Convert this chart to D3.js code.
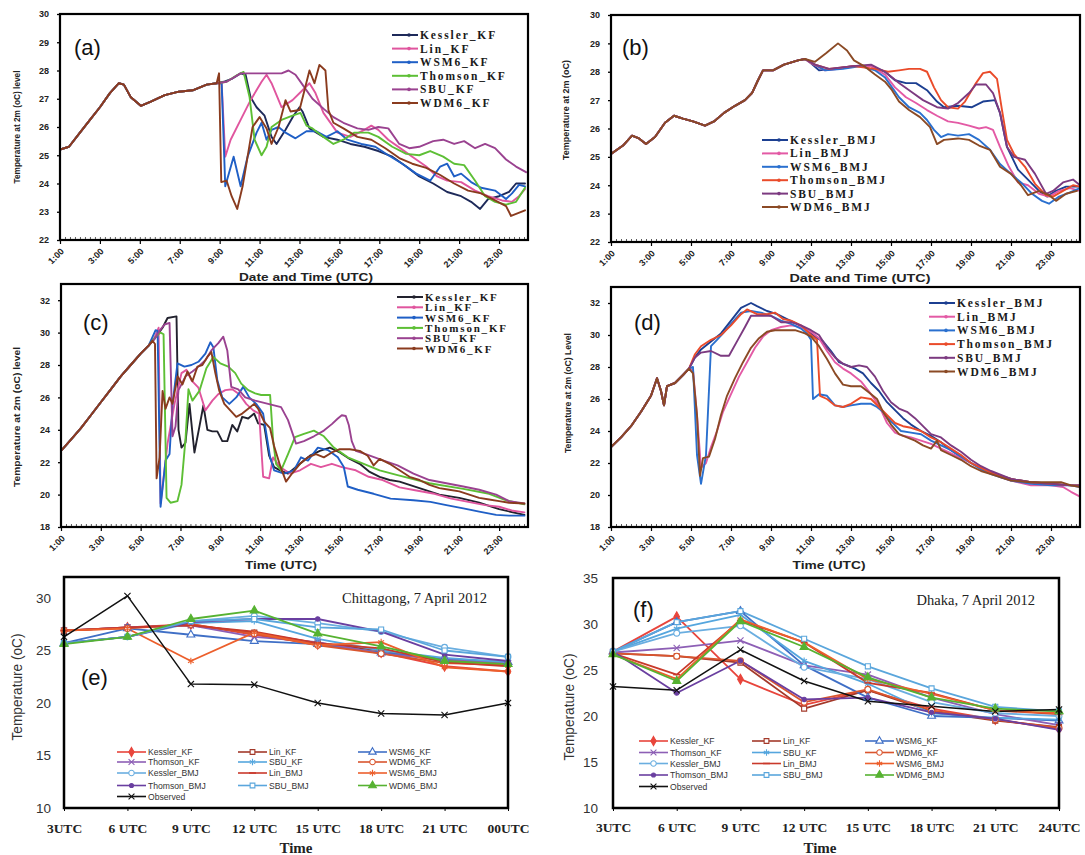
<!DOCTYPE html>
<html>
<head>
<meta charset="utf-8">
<script src="https://cdn.jsdelivr.net/npm/d3@7"></script>
<style>
  body { margin: 0; background: #fff; }
  svg { display: block; }
</style>
</head>
<body>
<svg id="fig" width="1085" height="855"></svg>
<script>
// ---------------- shared axis data ----------------
const hourTicks = [1, 3, 5, 7, 9, 11, 13, 15, 17, 19, 21, 23];
const hourTickLabels = ["1:00", "3:00", "5:00", "7:00", "9:00", "11:00", "13:00", "15:00", "17:00", "19:00", "21:00", "23:00"];
const hourDomain = [1, 24.45];

const namesKF = ["Kessler_KF", "Lin_KF", "WSM6_KF", "Thomson_KF", "SBU_KF", "WDM6_KF"];
const namesBMJ = ["Kessler_BMJ", "Lin_BMJ", "WSM6_BMJ", "Thomson_BMJ", "SBU_BMJ", "WDM6_BMJ"];
const colorsKF = ["#1e2a5a", "#e0559e", "#1f5fc6", "#5dbf35", "#9a4290", "#8a3b1e"];
const colorsKFc = ["#22222e", "#e0559e", "#1f5fc6", "#5dbf35", "#9a4290", "#8a3b1e"];
const colorsBMJ = ["#1c3f91", "#e35aa5", "#2a70cf", "#ea4b2a", "#7c3a80", "#8b4a25"];

// ---------------- panel (a): KF runs, [hour, °C] ----------------
const aLeadIn = [[1,25.2],[1.45,25.3],[2,25.8],[2.5,26.25],[3,26.7],[3.5,27.2],[3.95,27.55],[4.2,27.5],[4.55,27.05],[5.05,26.75],[5.55,26.9],[6.25,27.13],[6.95,27.25],[7.65,27.3],[8.35,27.5],[8.85,27.55]];
const aKessler = [[9.2,27.6],[9.6,27.7],[10.05,27.9],[10.3,27.85],[10.55,27.05],[10.85,26.7],[11.25,26.4],[11.6,25.65],[11.85,25.4],[12.3,25.9],[12.7,26.4],[13.0,26.7],[13.15,26.55],[13.5,25.95],[14.2,25.65],[14.9,25.55],[15.55,25.4],[16.25,25.3],[16.95,25.15],[17.65,24.95],[18.35,24.6],[19.0,24.25],[19.7,24.0],[20.4,23.7],[21.1,23.55],[21.6,23.35],[22.05,23.1],[22.45,23.45],[23.0,23.55],[23.5,23.7],[23.85,24.0],[24.3,24.0]];
const aLin = [[9.1,27.55],[9.28,24.95],[9.55,25.55],[10.05,26.25],[10.55,26.95],[11.1,27.6],[11.35,27.85],[11.6,27.55],[12.1,26.7],[12.65,26.95],[13.15,27.3],[13.5,27.55],[13.8,27.2],[14.2,26.5],[14.9,25.8],[15.55,25.65],[16.25,25.9],[16.6,26.05],[16.95,25.9],[17.45,25.55],[18.15,25.2],[18.65,24.95],[19.35,24.6],[19.9,24.25],[20.4,24.1],[21.1,24.05],[21.8,23.75],[22.45,23.55],[23.15,23.4],[23.65,23.35],[24.0,23.55],[24.3,23.8]];
const aWSM6 = [[9.1,27.55],[9.28,23.9],[9.7,24.95],[10.05,23.9],[10.4,24.95],[10.85,25.8],[11.1,26.15],[11.35,25.55],[11.6,25.9],[11.95,26.0],[12.3,25.8],[12.8,25.6],[13.35,25.85],[13.85,25.85],[14.35,25.65],[14.9,25.85],[15.4,25.55],[16.1,25.4],[16.8,25.3],[17.45,25.0],[18.15,24.7],[18.85,24.35],[19.55,24.1],[20.05,24.6],[20.4,24.7],[20.75,24.25],[21.1,24.35],[21.6,24.05],[22.1,23.85],[22.8,23.75],[23.35,23.45],[23.65,23.65],[24.0,23.95],[24.3,23.9]];
const aThomson = [[9.35,27.6],[9.9,27.85],[10.2,27.95],[10.5,27.05],[10.75,25.55],[11.1,25.0],[11.35,25.3],[11.6,26.0],[12.1,26.25],[12.65,26.4],[13.05,26.5],[13.35,26.05],[13.65,25.95],[14.2,25.65],[14.7,25.4],[15.2,25.55],[15.75,25.8],[16.45,25.8],[16.95,25.65],[17.65,25.3],[18.35,25.05],[19.0,25.0],[19.55,25.15],[20.2,24.95],[20.75,24.7],[21.25,24.65],[21.8,24.1],[22.3,23.55],[22.8,23.35],[23.35,23.25],[23.85,23.35],[24.3,23.85]];
const aSBU = [[9.35,27.6],[10.05,27.9],[11.1,27.9],[12.1,27.9],[12.45,28.0],[12.8,27.85],[13.15,27.5],[13.65,27.0],[14.2,26.65],[14.7,26.35],[15.2,26.15],[15.9,25.95],[16.45,25.9],[16.95,26.0],[17.45,25.95],[18.0,25.4],[18.5,25.25],[19.0,25.3],[19.7,25.5],[20.2,25.55],[20.75,25.4],[21.25,25.5],[21.8,25.25],[22.3,25.4],[22.8,25.25],[23.35,24.85],[23.85,24.6],[24.35,24.4]];
const aWDM6 = [[8.97,27.9],[9.08,24.05],[9.35,24.1],[9.6,23.55],[9.88,23.1],[10.15,23.9],[10.4,24.95],[10.65,26.0],[11.0,26.35],[11.35,25.95],[11.6,25.4],[11.95,26.0],[12.3,26.95],[12.55,26.55],[13.0,26.6],[13.25,27.3],[13.5,28.0],[13.75,27.55],[14.0,28.2],[14.3,28.0],[14.45,26.6],[14.7,26.15],[15.2,25.95],[15.9,25.65],[16.6,25.55],[17.3,25.25],[18.0,24.9],[18.65,24.7],[19.35,24.55],[20.05,24.3],[20.75,24.0],[21.45,23.75],[22.1,23.65],[22.8,23.4],[23.35,23.2],[23.6,22.85],[23.95,22.95],[24.3,23.05]];

// ---------------- panel (b): BMJ runs ----------------
const bLeadIn = [[1,25.1],[1.6,25.4],[2.05,25.75],[2.4,25.65],[2.75,25.45],[3.2,25.7],[3.7,26.2],[4.15,26.45],[4.6,26.35],[5.1,26.25],[5.7,26.1],[6.15,26.25],[6.65,26.55],[7.2,26.8],[7.7,27.0],[8.05,27.25],[8.35,27.7],[8.6,28.05],[9.1,28.05],[9.65,28.25],[10.35,28.4],[10.7,28.45]];
const bKessler = [[11.0,28.3],[11.4,28.05],[12.1,28.1],[13.1,28.2],[14.0,28.2],[14.7,28.0],[15.2,27.7],[15.75,27.6],[16.25,27.6],[16.8,27.35],[17.3,26.95],[17.65,26.75],[18.35,26.8],[19.05,26.75],[19.6,26.95],[20.2,27.0],[20.45,26.55],[20.8,25.35],[21.35,24.55],[21.85,24.2],[22.4,23.8],[22.8,23.6],[23.25,23.8],[23.75,23.95],[24.45,23.95]];
const bLin = [[11.0,28.3],[11.7,28.05],[12.4,28.1],[13.1,28.2],[14.0,28.2],[14.7,27.9],[15.2,27.45],[15.75,27.1],[16.25,26.9],[16.8,26.65],[17.3,26.45],[17.85,26.25],[18.35,26.2],[18.9,26.1],[19.4,26.0],[19.75,26.05],[20.1,25.95],[20.45,25.35],[20.9,24.65],[21.35,24.1],[21.85,24.0],[22.4,23.7],[22.9,23.6],[23.4,23.8],[23.95,23.9],[24.45,23.8]];
const bWSM6 = [[11.2,28.25],[11.7,28.05],[12.6,28.1],[13.5,28.2],[14.2,28.05],[14.7,27.8],[15.05,27.45],[15.4,27.1],[15.9,26.75],[16.45,26.55],[16.8,26.3],[17.15,25.95],[17.5,25.7],[17.85,25.8],[18.35,25.75],[18.9,25.8],[19.4,25.6],[19.95,25.25],[20.45,24.75],[21.0,24.4],[21.5,24.1],[22.05,23.7],[22.55,23.45],[22.9,23.35],[23.4,23.6],[23.95,23.75],[24.45,23.9]];
const bThomson = [[11.2,28.25],[11.9,28.1],[13.1,28.2],[14.2,28.1],[14.85,28.0],[15.4,28.05],[15.9,28.1],[16.45,28.1],[16.8,28.0],[17.15,27.45],[17.5,27.0],[17.85,26.75],[18.35,26.7],[18.7,26.95],[19.25,27.6],[19.6,27.95],[19.95,28.0],[20.3,27.75],[20.55,26.65],[20.8,25.6],[21.15,25.1],[21.7,24.65],[22.2,24.05],[22.75,23.65],[23.1,23.6],[23.6,23.8],[24.1,24.0],[24.45,23.95]];
const bSBU = [[11.2,28.25],[11.9,28.1],[13.1,28.2],[14.0,28.25],[14.7,28.0],[15.4,27.6],[16.1,27.25],[16.6,27.0],[17.3,26.75],[17.85,26.7],[18.35,26.9],[18.9,27.25],[19.25,27.55],[19.75,27.55],[20.1,27.25],[20.45,26.55],[20.8,25.35],[21.15,25.0],[21.7,24.9],[22.2,24.4],[22.75,23.7],[23.1,23.8],[23.6,24.1],[24.1,24.2],[24.45,24.0]];
const bWDM6 = [[11.2,28.35],[11.75,28.65],[12.35,29.0],[12.8,28.75],[13.15,28.4],[13.65,28.2],[14.2,27.9],[14.7,27.65],[15.05,27.35],[15.4,26.95],[15.9,26.65],[16.45,26.4],[16.95,26.05],[17.3,25.45],[17.65,25.6],[18.35,25.65],[18.9,25.6],[19.4,25.4],[19.95,25.25],[20.45,24.65],[21.0,24.4],[21.5,24.0],[21.85,23.65],[22.4,23.8],[22.9,23.65],[23.25,23.45],[23.75,23.7],[24.3,23.8]];

// ---------------- panel (c): KF runs ----------------
const cLeadIn = [[1,22.7],[1.5,23.4],[2,24.1],[2.5,24.9],[3,25.7],[3.5,26.5],[4,27.3],[4.5,28.0],[5,28.7],[5.4,29.2]];
const cKessler = [[5.8,29.8],[6.1,30.3],[6.35,30.9],[6.8,31.0],[6.9,24.0],[7.05,22.9],[7.25,23.2],[7.45,25.6],[7.7,22.6],[7.95,24.2],[8.15,25.5],[8.35,24.0],[8.6,23.9],[8.85,23.9],[9.1,23.3],[9.35,23.3],[9.6,24.3],[9.85,23.9],[10.1,24.8],[10.4,24.7],[10.7,25.0],[10.9,24.4],[11.2,24.3],[11.45,22.4],[11.7,21.7],[12.0,21.5],[12.4,21.3],[13.0,21.9],[13.5,22.4],[14.0,22.7],[14.5,22.9],[15.0,22.6],[15.5,22.2],[16.0,21.9],[16.5,21.4],[17.0,21.1],[17.5,20.9],[18.0,20.8],[19.0,20.4],[20.0,20.0],[21.0,19.8],[22.0,19.5],[23.0,19.1],[24.27,18.75]];
const cLin = [[5.7,29.7],[5.9,30.3],[6.0,19.45],[6.35,23.15],[6.7,25.6],[7.05,27.5],[7.3,27.7],[7.55,27.05],[7.9,26.6],[8.25,25.2],[8.6,25.8],[8.9,26.2],[9.25,26.45],[9.6,26.5],[9.95,26.2],[10.3,25.6],[10.65,25.2],[10.95,25.0],[11.15,21.1],[11.45,21.0],[11.65,22.3],[12.0,21.7],[12.5,21.3],[13.0,21.5],[13.55,21.9],[14.05,21.7],[14.6,21.9],[15.1,21.7],[15.8,21.5],[16.45,21.1],[17.15,20.9],[18.0,20.45],[18.85,20.25],[19.75,20.05],[20.6,19.75],[21.45,19.55],[22.3,19.35],[23.0,19.25],[23.7,19.0],[24.27,18.9]];
const cWSM6 = [[5.75,30.15],[5.85,30.1],[6.0,19.25],[6.25,22.1],[6.45,22.5],[6.6,25.6],[6.85,28.1],[7.2,27.9],[7.55,28.0],[7.9,28.2],[8.25,28.7],[8.5,29.4],[8.65,29.1],[8.85,27.05],[9.1,26.0],[9.45,25.6],[9.8,26.0],[10.15,26.65],[10.45,26.0],[10.8,25.6],[11.15,25.0],[11.5,22.3],[11.7,21.5],[12.2,21.3],[12.7,21.5],[13.05,22.3],[13.4,22.1],[13.9,22.9],[14.4,22.75],[14.9,22.3],[15.2,21.7],[15.4,20.5],[15.9,20.3],[16.7,20.05],[17.55,19.75],[18.7,19.65],[19.55,19.55],[20.35,19.35],[21.2,19.15],[22.0,18.95],[22.85,18.75],[23.5,18.7],[24.27,18.7]];
const cThomson = [[5.8,29.8],[6.0,30.0],[6.15,29.9],[6.3,19.8],[6.5,19.5],[6.85,19.6],[7.05,20.6],[7.25,23.4],[7.4,26.5],[7.6,25.8],[7.95,26.4],[8.3,27.8],[8.65,28.5],[9.0,28.1],[9.4,27.9],[9.75,27.5],[10.05,26.85],[10.4,26.45],[10.75,26.25],[11.05,26.15],[11.5,26.15],[11.65,23.35],[11.8,21.9],[12.05,21.5],[12.4,22.5],[12.75,23.55],[13.2,23.75],[13.7,23.95],[14.2,23.6],[14.7,22.9],[15.4,22.3],[16.2,21.9],[17.0,21.5],[17.9,21.2],[19.5,20.7],[21.2,20.35],[22.5,20.05],[23.35,19.65],[24.27,19.4]];
const cSBU = [[5.7,29.6],[6.0,30.2],[6.2,30.5],[6.45,30.6],[6.6,23.6],[6.75,24.2],[6.9,26.45],[7.25,27.3],[7.6,27.6],[7.9,27.9],[8.25,28.3],[8.55,28.9],[8.9,29.35],[9.15,29.75],[9.35,28.9],[9.55,26.65],[9.9,26.5],[10.25,26.0],[10.75,25.8],[11.4,25.6],[12.05,25.4],[12.4,24.6],[12.8,23.15],[13.2,23.3],[13.7,23.6],[14.2,23.95],[14.6,24.35],[14.9,24.7],[15.1,24.9],[15.3,24.85],[15.45,24.3],[15.6,23.3],[15.8,22.7],[16.3,22.5],[17.2,22.1],[17.9,21.8],[18.7,21.3],[19.5,20.9],[20.35,20.7],[21.2,20.5],[22.0,20.3],[22.85,20.0],[23.5,19.6],[24.27,19.45]];
const cWDM6 = [[5.6,29.5],[5.72,29.3],[5.8,21.0],[5.95,22.3],[6.1,26.4],[6.25,25.3],[6.45,26.0],[6.6,25.6],[6.85,27.3],[7.1,26.8],[7.35,27.6],[7.6,27.0],[7.85,27.9],[8.1,28.0],[8.35,28.5],[8.55,28.8],[8.75,27.5],[8.95,26.4],[9.2,25.6],[9.5,25.2],[9.8,24.8],[10.1,25.0],[10.4,25.3],[10.7,25.6],[10.9,25.3],[11.2,24.5],[11.5,24.1],[11.7,23.0],[12.0,21.8],[12.3,20.8],[12.6,21.3],[13.0,21.9],[13.4,22.3],[13.8,22.5],[14.2,22.3],[14.6,22.6],[15.0,22.8],[15.5,22.8],[16.0,22.7],[16.4,22.4],[16.7,21.8],[17.0,22.2],[17.5,21.9],[18.0,21.5],[18.5,21.1],[19.0,20.9],[19.5,20.6],[20.0,20.4],[20.5,20.3],[21.0,20.2],[21.5,20.0],[22.0,19.8],[22.5,19.7],[23.0,19.6],[23.5,19.5],[24.27,19.45]];

// ---------------- panel (d): BMJ runs ----------------
const dLeadIn = [[1,23.0],[1.5,23.6],[2.0,24.3],[2.5,25.2],[3.0,26.2],[3.3,27.3],[3.5,26.5],[3.65,25.6],[3.8,26.8],[4.2,27.0],[4.6,27.5],[4.9,27.9]];
const dKessler = [[5.2,28.6],[5.5,29.1],[6.0,29.6],[6.5,30.1],[7.0,30.9],[7.5,31.7],[8.0,32.0],[8.3,31.8],[8.8,31.5],[9.3,31.3],[9.8,31.0],[10.3,30.7],[10.8,30.3],[11.2,29.9],[11.6,29.6],[12.0,29.0],[12.4,28.3],[12.8,28.1],[13.2,27.9],[13.6,27.6],[14.0,27.0],[14.4,26.5],[14.8,25.8],[15.2,25.3],[15.6,24.8],[16.0,24.4],[16.5,24.0],[17.0,23.7],[17.5,23.3],[18.0,22.8],[18.5,22.4],[19.0,22.0],[19.5,21.7],[20.0,21.4],[20.5,21.2],[21.0,21.0],[22.0,20.8],[23.0,20.7],[24.0,20.6],[24.45,20.6]];
const dLin = [[5.1,27.8],[5.3,25.0],[5.5,21.7],[5.75,22.0],[6.0,23.0],[6.3,24.0],[6.6,25.2],[7.0,26.3],[7.4,27.4],[7.8,28.3],[8.2,29.2],[8.6,29.9],[9.0,30.3],[9.5,30.5],[10.0,30.6],[10.5,30.5],[11.0,30.2],[11.4,29.8],[11.8,29.0],[12.2,28.3],[12.6,27.9],[13.0,27.6],[13.5,27.1],[14.0,26.3],[14.4,25.6],[14.8,24.5],[15.2,23.9],[15.6,23.7],[16.0,23.6],[16.5,23.4],[17.0,23.2],[17.5,22.9],[18.0,22.6],[18.5,22.3],[19.0,22.0],[19.5,21.7],[20.0,21.4],[20.5,21.1],[21.0,20.9],[22.0,20.6],[23.0,20.6],[23.6,20.5],[24.0,20.2],[24.45,19.9]];
const dWSM6 = [[5.1,28.0],[5.3,22.5],[5.5,20.7],[5.75,22.5],[6.0,29.3],[6.3,29.7],[6.6,30.1],[7.0,30.7],[7.5,31.4],[8.0,31.5],[8.5,31.4],[9.0,31.2],[9.5,30.9],[10.0,30.7],[10.5,30.4],[10.8,30.1],[11.0,29.7],[11.1,26.0],[11.4,26.3],[11.8,26.2],[12.2,25.6],[12.6,25.5],[13.0,25.6],[13.5,25.7],[14.0,25.7],[14.3,25.5],[14.6,25.2],[15.0,24.6],[15.5,24.0],[16.0,23.9],[16.5,23.8],[17.0,23.4],[17.5,23.1],[18.0,22.8],[18.5,22.4],[19.0,22.0],[19.5,21.6],[20.0,21.3],[20.5,21.1],[21.0,20.9],[22.0,20.7],[23.0,20.6],[24.0,20.6],[24.45,20.5]];
const dThomson = [[5.2,28.8],[5.5,29.3],[6.0,29.7],[6.5,30.0],[7.0,30.6],[7.5,31.3],[7.8,31.6],[8.3,31.3],[8.8,31.3],[9.2,31.4],[9.6,31.0],[10.0,30.9],[10.5,30.6],[11.0,30.0],[11.3,29.7],[11.45,26.2],[11.8,26.0],[12.2,25.6],[12.6,25.5],[13.0,25.7],[13.5,26.1],[14.0,26.0],[14.4,25.5],[14.8,25.0],[15.2,24.5],[15.6,24.3],[16.0,24.2],[16.5,24.0],[17.0,23.6],[17.5,23.3],[18.0,22.9],[18.5,22.5],[19.0,22.0],[19.5,21.7],[20.0,21.4],[21.0,21.0],[22.0,20.8],[23.0,20.7],[24.0,20.6],[24.45,20.6]];
const dSBU = [[5.2,28.6],[5.5,28.9],[6.0,29.0],[6.5,28.7],[6.9,28.7],[7.3,29.6],[7.7,30.5],[8.0,31.2],[8.5,31.2],[9.0,31.2],[9.5,30.8],[10.0,30.8],[10.5,30.6],[11.0,30.3],[11.4,30.0],[11.8,29.2],[12.2,28.6],[12.6,28.2],[13.0,28.0],[13.4,28.1],[13.8,28.0],[14.2,27.4],[14.6,26.5],[15.0,25.8],[15.4,25.4],[15.8,25.2],[16.2,24.8],[16.6,24.3],[17.0,23.8],[17.5,23.6],[18.0,23.1],[18.5,22.7],[19.0,22.2],[19.5,21.8],[20.0,21.5],[21.0,21.0],[22.0,20.8],[23.0,20.7],[24.0,20.6],[24.45,20.6]];
const dWDM6 = [[5.1,27.6],[5.3,25.0],[5.45,21.2],[5.6,22.3],[5.9,22.4],[6.2,23.5],[6.5,25.0],[6.8,26.2],[7.2,27.3],[7.6,28.3],[8.0,29.2],[8.4,29.8],[8.8,30.2],[9.2,30.3],[9.7,30.3],[10.2,30.3],[10.7,30.1],[11.0,29.9],[11.4,29.3],[11.8,28.5],[12.2,27.6],[12.6,26.9],[13.0,26.8],[13.5,26.8],[13.9,26.4],[14.3,26.0],[14.6,25.2],[15.0,24.4],[15.4,23.8],[15.8,23.6],[16.2,23.4],[16.6,23.1],[17.0,22.9],[17.3,23.4],[17.5,22.8],[18.0,22.5],[18.5,22.2],[19.0,21.8],[19.5,21.5],[20.0,21.3],[20.5,21.1],[21.0,20.9],[22.0,20.8],[23.0,20.8],[23.5,20.8],[24.0,20.6],[24.45,20.5]];

// ---------------- panels (e), (f): 3-hourly station comparison ----------------
const stationNames = ["Kessler_KF", "Lin_KF", "WSM6_KF", "Thomson_KF", "SBU_KF", "WDM6_KF",
                      "Kessler_BMJ", "Lin_BMJ", "WSM6_BMJ", "Thomson_BMJ", "SBU_BMJ", "WDM6_BMJ", "Observed"];
const stationColors = ["#e8453c", "#a3392a", "#3f6fc6", "#8d5fb5", "#55a6de", "#d9552e",
                       "#6aaee0", "#c9392b", "#ec5f2c", "#6a3fa0", "#5aa6dc", "#56b231", "#111111"];
const stationMarkers = ["diamond", "squareOpen", "triangleOpen", "times", "asterisk", "circleOpen",
                        "circleOpen", "dash", "asterisk", "dot", "squareOpen", "triangle", "times"];

const eCategories = ["3UTC", "6 UTC", "9 UTC", "12 UTC", "15 UTC", "18 UTC", "21 UTC", "00UTC"];
const eValues = [
  [26.9, 27.2, 27.5, 26.5, 25.6, 24.8, 23.5, 23.0],   // Kessler_KF
  [26.9, 27.2, 27.4, 26.7, 25.7, 25.0, 24.0, 23.8],   // Lin_KF
  [25.7, 27.1, 26.5, 25.9, 25.6, 24.8, 24.2, 23.9],   // WSM6_KF
  [26.9, 27.2, 27.4, 26.3, 25.8, 24.7, 24.1, 23.8],   // Thomson_KF
  [25.7, 26.3, 27.6, 27.8, 26.1, 25.0, 24.3, 23.9],   // SBU_KF
  [26.9, 27.1, 27.5, 26.6, 25.5, 24.7, 23.8, 23.6],   // WDM6_KF
  [25.7, 26.3, 27.8, 28.3, 27.6, 26.8, 25.3, 24.4],   // Kessler_BMJ
  [26.9, 27.2, 27.4, 26.8, 25.7, 25.2, 23.9, 23.5],   // Lin_BMJ
  [26.9, 27.1, 24.0, 26.7, 25.5, 25.8, 23.4, 23.0],   // WSM6_BMJ
  [25.7, 26.3, 27.7, 28.0, 28.0, 26.8, 24.6, 24.0],   // Thomson_BMJ
  [25.7, 26.3, 27.8, 28.0, 27.2, 27.0, 25.0, 24.4],   // SBU_BMJ
  [25.6, 26.3, 28.0, 28.8, 26.6, 25.4, 24.0, 23.7],   // WDM6_BMJ
  [26.3, 30.2, 21.8, 21.75, 20.0, 19.0, 18.85, 20.0]  // Observed
];

const fCategories = ["3UTC", "6 UTC", "9 UTC", "12 UTC", "15 UTC", "18 UTC", "21 UTC", "24UTC"];
const fValues = [
  [27.0, 30.8, 24.0, 21.2, 22.8, 20.8, 19.6, 18.6],   // Kessler_KF
  [26.8, 26.5, 25.8, 20.8, 22.8, 20.5, 19.5, 18.8],   // Lin_KF
  [27.0, 30.2, 31.4, 25.5, 22.0, 20.0, 19.8, 19.5],   // WSM6_KF
  [26.9, 27.4, 28.2, 25.5, 24.5, 22.0, 20.2, 19.0],   // Thomson_KF
  [27.0, 29.5, 31.0, 26.0, 23.5, 20.3, 19.8, 19.6],   // SBU_KF
  [26.8, 26.5, 26.0, 21.5, 22.9, 20.6, 19.6, 18.7],   // WDM6_KF
  [27.0, 29.0, 29.8, 25.3, 24.0, 21.5, 20.3, 20.0],   // Kessler_BMJ
  [26.8, 24.5, 30.4, 28.0, 23.6, 22.5, 20.6, 20.2],   // Lin_BMJ
  [26.7, 24.0, 30.5, 28.0, 24.0, 22.4, 20.6, 20.3],   // WSM6_BMJ
  [27.0, 22.5, 26.0, 21.8, 22.0, 20.4, 19.7, 18.5],   // Thomson_BMJ
  [27.0, 30.2, 31.4, 28.4, 25.4, 23.0, 21.0, 20.5],   // SBU_BMJ
  [26.7, 23.8, 30.3, 27.5, 24.2, 22.0, 20.8, 20.5],   // WDM6_BMJ
  [23.2, 22.8, 27.2, 23.8, 21.6, 21.05, 20.5, 20.7]   // Observed
];

// ---------------- drawing ----------------
const svg = d3.select("#fig");
svg.append("rect").attr("width", 1085).attr("height", 855).attr("fill", "#fff");

const SANS = "'Liberation Sans', Arial, sans-serif";
const SERIF = "'Liberation Serif', 'Times New Roman', serif";
let clipId = 0;

function drawTimePanel(p) {
  const x = d3.scaleLinear().domain(hourDomain).range([p.box.l, p.box.r]);
  const y = d3.scaleLinear().domain(p.yDomain).range([p.box.b, p.box.t]);
  const g = svg.append("g");
  const cid = "clip" + (clipId++);
  g.append("clipPath").attr("id", cid).append("rect")
    .attr("x", p.box.l).attr("y", p.box.t).attr("width", p.box.r - p.box.l).attr("height", p.box.b - p.box.t);

  const line = d3.line().x(d => x(d[0])).y(d => y(d[1]));
  const lines = g.append("g").attr("clip-path", `url(#${cid})`);
  p.series.forEach((s, i) => {
    lines.append("path").datum(p.leadIn.concat(s))
      .attr("d", line).attr("fill", "none")
      .attr("stroke", p.colors[i]).attr("stroke-width", 1.9)
      .attr("stroke-linejoin", "round").attr("stroke-linecap", "round");
  });

  // y axis
  const ya = g.append("g").attr("transform", `translate(${p.box.l},0)`)
    .call(d3.axisLeft(y).tickValues(p.yTicks).tickSize(3).tickPadding(p.yPad));
  ya.select(".domain").remove();
  ya.selectAll("line").attr("stroke", "#000").attr("stroke-width", 1.3);
  ya.selectAll("text").attr("font-family", SANS).attr("font-weight", "bold").attr("font-size", 9).attr("fill", "#222");

  // minor ticks along the time axis (inward)
  const minor = [];
  for (let h = hourDomain[0]; h <= hourDomain[1]; h += 0.25) minor.push(h);
  const xm = g.append("g").attr("transform", `translate(0,${p.box.b})`)
    .call(d3.axisBottom(x).tickValues(minor).tickSize(-3).tickFormat(""));
  xm.select(".domain").remove();
  xm.selectAll("line").attr("stroke", "#333").attr("stroke-width", 0.8);

  // major ticks and rotated labels
  const xa = g.append("g").attr("transform", `translate(0,${p.box.b})`)
    .call(d3.axisBottom(x).tickValues(hourTicks).tickSize(4).tickFormat((d, i) => hourTickLabels[i]));
  xa.select(".domain").remove();
  xa.selectAll("line").attr("stroke", "#000").attr("stroke-width", 1.2);
  xa.selectAll("text")
    .attr("font-family", SANS).attr("font-weight", "bold").attr("font-size", 9).attr("fill", "#222")
    .attr("text-anchor", "end").attr("dy", null).attr("y", null)
    .attr("transform", "translate(4,12) rotate(-45)");

  // frame
  g.append("rect").attr("x", p.box.l).attr("y", p.box.t)
    .attr("width", p.box.r - p.box.l).attr("height", p.box.b - p.box.t)
    .attr("fill", "none").attr("stroke", "#000").attr("stroke-width", 2.2);

  // panel tag
  g.append("text").attr("x", p.tag.x).attr("y", p.tag.y).text(p.tag.text)
    .attr("font-family", SANS).attr("font-size", 22).attr("fill", "#111");

  // axis titles
  g.append("text").attr("transform", `translate(${p.yTitle.x},${p.yTitle.y}) rotate(-90)`)
    .attr("text-anchor", "middle").text(p.yTitle.text)
    .attr("font-family", SANS).attr("font-size", p.yTitle.size).attr("font-weight", "bold").attr("fill", "#222")
    .attr("textLength", p.yTitle.len).attr("lengthAdjust", "spacingAndGlyphs");
  if (p.xTitle) {
    g.append("text").attr("x", p.xTitle.x).attr("y", p.xTitle.y).attr("text-anchor", "middle")
      .text(p.xTitle.text)
      .attr("font-family", SANS).attr("font-size", 10).attr("font-weight", "bold").attr("fill", "#222")
      .attr("textLength", p.xTitle.len).attr("lengthAdjust", "spacingAndGlyphs");
  }

  // legend
  const lg = g.append("g");
  p.names.forEach((n, i) => {
    const yy = p.legend.y0 + i * p.legend.dy;
    lg.append("line").attr("x1", p.legend.x0).attr("x2", p.legend.x1).attr("y1", yy).attr("y2", yy)
      .attr("stroke", p.colors[i]).attr("stroke-width", 2);
    lg.append("circle").attr("cx", (p.legend.x0 + p.legend.x1) / 2 + 4).attr("cy", yy).attr("r", 1.8)
      .attr("fill", p.colors[i]);
    lg.append("text").attr("x", p.legend.x1 + 2).attr("y", yy + 4).text(n)
      .attr("font-family", SERIF).attr("font-weight", "bold").attr("font-size", p.legend.size)
      .attr("letter-spacing", p.legend.ls).attr("fill", "#1a1a1a");
  });
}

drawTimePanel({
  box: { l: 60, r: 528, t: 14, b: 240 }, yDomain: [22, 30], yTicks: d3.range(22, 31, 1), yPad: 8,
  leadIn: aLeadIn, series: [aKessler, aLin, aWSM6, aThomson, aSBU, aWDM6],
  names: namesKF, colors: colorsKF,
  tag: { x: 74, y: 55, text: "(a)" },
  yTitle: { x: 20, y: 127, text: "Temperature at 2m (oC) level", size: 8.5, len: 113 },
  xTitle: { x: 306, y: 281, text: "Date and Time (UTC)", len: 134 },
  legend: { x0: 392, x1: 418, y0: 35, dy: 13.6, size: 11.5, ls: 1.9 }
});

drawTimePanel({
  box: { l: 611, r: 1080, t: 15, b: 242 }, yDomain: [22, 30], yTicks: d3.range(22, 31, 1), yPad: 8,
  leadIn: bLeadIn, series: [bKessler, bLin, bWSM6, bThomson, bSBU, bWDM6],
  names: namesBMJ, colors: colorsBMJ,
  tag: { x: 622, y: 55, text: "(b)" },
  yTitle: { x: 569, y: 110, text: "Temperature at 2m (oC)", size: 8.5, len: 100 },
  xTitle: { x: 860, y: 282, text: "Date and Time (UTC)", len: 141 },
  legend: { x0: 762, x1: 788, y0: 140, dy: 13.4, size: 11.5, ls: 1.9 }
});

drawTimePanel({
  box: { l: 61, r: 528, t: 284, b: 527 }, yDomain: [18, 33], yTicks: d3.range(18, 33, 2), yPad: 8,
  leadIn: cLeadIn, series: [cKessler, cLin, cWSM6, cThomson, cSBU, cWDM6],
  names: namesKF, colors: colorsKFc,
  tag: { x: 83, y: 330, text: "(c)" },
  yTitle: { x: 20, y: 417, text: "Temperature at 2m (oC) level", size: 9, len: 140 },
  xTitle: { x: 281, y: 569, text: "Time (UTC)", len: 72 },
  legend: { x0: 397, x1: 423, y0: 297, dy: 10.3, size: 11, ls: 1.8 }
});

drawTimePanel({
  box: { l: 611, r: 1080, t: 287, b: 527 }, yDomain: [18, 33], yTicks: d3.range(18, 33, 2), yPad: 8,
  leadIn: dLeadIn, series: [dKessler, dLin, dWSM6, dThomson, dSBU, dWDM6],
  names: namesBMJ, colors: colorsBMJ,
  tag: { x: 634, y: 330, text: "(d)" },
  yTitle: { x: 571, y: 393, text: "Temperature at 2m (oC) Level", size: 8.5, len: 120 },
  xTitle: { x: 829, y: 569, text: "Time (UTC)", len: 73 },
  legend: { x0: 929, x1: 955, y0: 303, dy: 13.7, size: 11.5, ls: 1.9 }
});

// marker painter for the station panels
function drawMarker(sel, kind, cx, cy, color, size) {
  const s = size || 1;
  const t = `translate(${cx},${cy})`;
  const sym = (type, area, fill, stroke) => sel.append("path")
    .attr("d", d3.symbol().type(type).size(area * s)).attr("transform", t)
    .attr("fill", fill).attr("stroke", stroke).attr("stroke-width", 1.1);
  switch (kind) {
    case "diamond": sym(d3.symbolDiamond, 30, color, color); break;
    case "squareOpen": sym(d3.symbolSquare, 28, "#fff", color); break;
    case "triangleOpen": sym(d3.symbolTriangle, 30, "#fff", color); break;
    case "triangle": sym(d3.symbolTriangle, 32, color, color); break;
    case "times": sym(d3.symbolTimes, 30, "none", color); break;
    case "asterisk": sym(d3.symbolAsterisk, 34, "none", color); break;
    case "circleOpen": sym(d3.symbolCircle, 30, "#fff", color); break;
    case "dot": sym(d3.symbolCircle, 16, color, color); break;
    case "dash": sel.append("line").attr("x1", cx - 3.5).attr("x2", cx + 3.5).attr("y1", cy).attr("y2", cy)
      .attr("stroke", color).attr("stroke-width", 1.5); break;
  }
}

function drawStationPanel(p) {
  const x = d3.scalePoint().domain(p.categories).range([p.box.l, p.box.r]).padding(0);
  const y = d3.scaleLinear().domain(p.yDomain).range([p.box.b, p.box.t]);
  const g = svg.append("g");
  const line = d3.line().x((d, i) => x(p.categories[i])).y(d => y(d));

  p.values.forEach((vals, i) => {
    g.append("path").datum(vals).attr("d", line).attr("fill", "none")
      .attr("stroke", stationColors[i]).attr("stroke-width", i === 12 ? 1.5 : 1.8)
      .attr("stroke-linejoin", "round");
  });
  p.values.forEach((vals, i) => {
    const mg = g.append("g");
    vals.forEach((v, j) => drawMarker(mg, stationMarkers[i], x(p.categories[j]), y(v), stationColors[i], 0.9));
  });

  // y axis
  const ya = g.append("g").attr("transform", `translate(${p.box.l},0)`)
    .call(d3.axisLeft(y).tickValues(p.yTicks).tickSize(0).tickPadding(p.yPad));
  ya.select(".domain").remove();
  ya.selectAll("text").attr("font-family", SANS).attr("font-size", 13.5).attr("fill", "#333");

  // category labels
  const xa = g.append("g").attr("transform", `translate(0,${p.box.b})`)
    .call(d3.axisBottom(x).tickSize(3).tickPadding(p.xPad));
  xa.select(".domain").remove();
  xa.selectAll("line").attr("stroke", "#000");
  xa.selectAll("text").attr("font-family", SERIF).attr("font-size", 13.5).attr("font-weight", "bold").attr("fill", "#222");

  // frame
  g.append("rect").attr("x", p.box.l).attr("y", p.box.t)
    .attr("width", p.box.r - p.box.l).attr("height", p.box.b - p.box.t)
    .attr("fill", "none").attr("stroke", "#000").attr("stroke-width", 2.5);

  g.append("text").attr("x", p.tag.x).attr("y", p.tag.y).text(p.tag.text)
    .attr("font-family", SANS).attr("font-size", 22).attr("fill", "#111");

  g.append("text").attr("x", p.place.x).attr("y", p.place.y).attr("text-anchor", "end")
    .text(p.place.text).attr("font-family", SERIF).attr("font-size", 14.5).attr("fill", "#222");

  g.append("text").attr("transform", `translate(${p.yTitle.x},${p.yTitle.y}) rotate(-90)`)
    .attr("text-anchor", "middle").text("Temperature (oC)")
    .attr("font-family", SANS).attr("font-size", 14).attr("fill", "#333")
    .attr("textLength", 107).attr("lengthAdjust", "spacingAndGlyphs");
  g.append("text").attr("x", p.xTitle.x).attr("y", p.xTitle.y).attr("text-anchor", "middle")
    .text("Time").attr("font-family", SERIF).attr("font-size", 15).attr("font-weight", "bold").attr("fill", "#222");

  // three-column legend
  stationNames.forEach((n, i) => {
    const col = i % 3, row = Math.floor(i / 3);
    const lx = p.legend.cols[col], ly = p.legend.rows[row];
    g.append("line").attr("x1", lx).attr("x2", lx + 29).attr("y1", ly).attr("y2", ly)
      .attr("stroke", stationColors[i]).attr("stroke-width", 1.6);
    drawMarker(g, stationMarkers[i], lx + 14.5, ly, stationColors[i], 0.8);
    g.append("text").attr("x", lx + 31).attr("y", ly + 3.2).text(n)
      .attr("font-family", SANS).attr("font-size", 8.6).attr("fill", "#333");
  });
}

drawStationPanel({
  box: { l: 64, r: 508, t: 577, b: 808 }, yDomain: [10, 32], yTicks: [10, 15, 20, 25, 30], yPad: 13,
  categories: eCategories, values: eValues, xPad: 12,
  tag: { x: 81, y: 685, text: "(e)" },
  place: { x: 487, y: 603, text: "Chittagong, 7 April 2012" },
  yTitle: { x: 22, y: 687 }, xTitle: { x: 296, y: 853 },
  legend: { cols: [117, 238, 358], rows: [752, 762, 773, 785.5, 796.5] }
});

drawStationPanel({
  box: { l: 613, r: 1059, t: 578, b: 808 }, yDomain: [10, 35], yTicks: [10, 15, 20, 25, 30, 35], yPad: 15,
  categories: fCategories, values: fValues, xPad: 11,
  tag: { x: 633, y: 617, text: "(f)" },
  place: { x: 1035, y: 605, text: "Dhaka, 7 April 2012" },
  yTitle: { x: 574, y: 707 }, xTitle: { x: 820, y: 853 },
  legend: { cols: [639, 752, 865], rows: [741, 752.5, 763.5, 775, 786.5] }
});
</script>
</body>
</html>
